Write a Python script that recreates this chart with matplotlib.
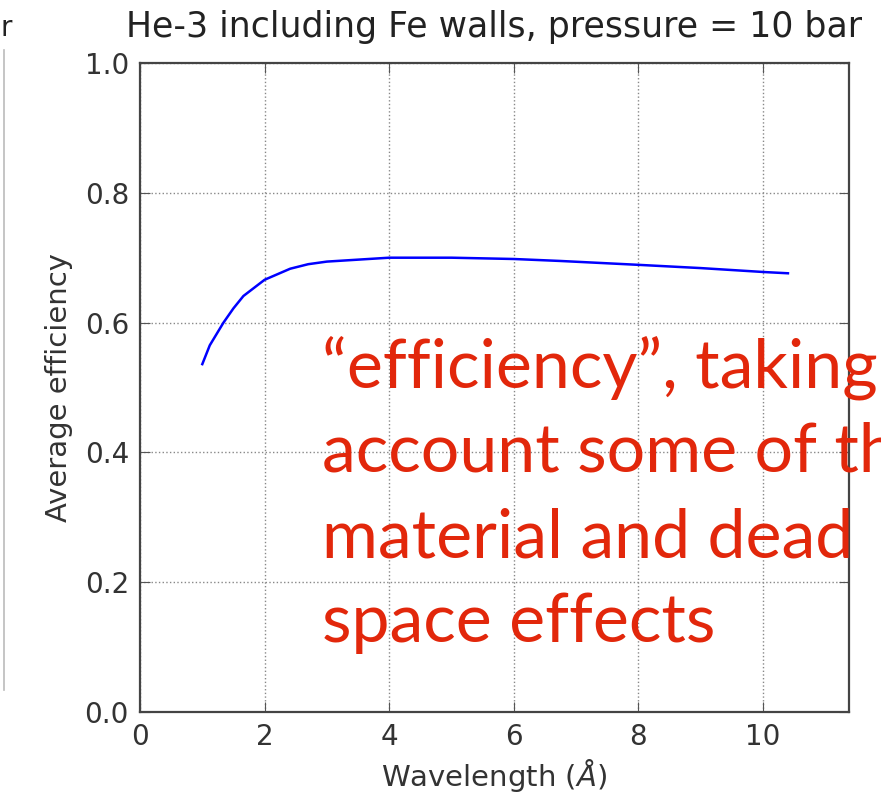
import matplotlib
matplotlib.use("Agg")
import matplotlib.pyplot as plt
from matplotlib.lines import Line2D

plt.rcParams["font.family"] = ["DejaVu Sans"]

# average efficiency vs wavelength, He-3 tube with Fe walls at 10 bar
wavelength = [1.0, 1.12, 1.34, 1.5, 1.66, 2.0, 2.41, 2.7, 3.0, 4.0, 5.0, 6.0, 6.74, 8.0, 9.0, 10.0, 10.4]
efficiency = [0.536, 0.565, 0.600, 0.622, 0.641, 0.666, 0.683, 0.690, 0.694, 0.700, 0.700, 0.698, 0.695, 0.689, 0.684, 0.678, 0.676]

x_ticks = [0, 2, 4, 6, 8, 10]
y_ticks = [0.0, 0.2, 0.4, 0.6, 0.8, 1.0]

note_lines = ["\u201cefficiency\u201d, taking",
              "account some of the",
              "material and dead",
              "space effects"]

fig = plt.figure(figsize=(8.81, 7.92), dpi=100)
fig.patch.set_facecolor("white")
ax = fig.add_axes([140/881, 1 - 712/792, (849-140)/881, (712-63)/792])

ax.plot(wavelength, efficiency, color="blue", lw=1.8)
ax.set_xlim(0, 11.38)
ax.set_ylim(0, 1.0)
ax.set_xticks(x_ticks)
ax.set_yticks(y_ticks)
ax.set_yticklabels(["%.1f" % v for v in y_ticks])
ax.grid(True, color="#888888", linestyle=":", linewidth=1.0)
ax.tick_params(direction="in", top=True, right=True, length=7, width=0.8,
               labelsize=20, colors="#555555", labelcolor="#333333", pad=8)
for s in ax.spines.values():
    s.set_color("#444444")
    s.set_linewidth(1.6)

ax.set_title("He-3 including Fe walls, pressure = 10 bar", fontsize=25, color="#222222", pad=19)
ax.set_xlabel(r"Wavelength ($\AA$)", fontsize=21, color="#333333", labelpad=4)
ax.set_ylabel("Average efficiency", fontsize=21, color="#333333", labelpad=8)

# slide annotation over the plot
base_y = [387, 472, 557, 642]
for line, by in zip(note_lines, base_y):
    fig.text(322/881, 1 - by/792, line, fontsize=49, family="Lato",
             color="#e2270b", ha="left", va="baseline")

# edge of the neighbouring panel
fig.add_artist(Line2D([4/881, 4/881], [1 - 690/792, 1 - 50/792], color="#bbbbbb", lw=1.2))
fig.text(0.5/881, 1 - 36/792, "r", fontsize=20, color="#222222", ha="left", va="baseline")

fig.savefig("out.png", dpi=100, facecolor="white")
